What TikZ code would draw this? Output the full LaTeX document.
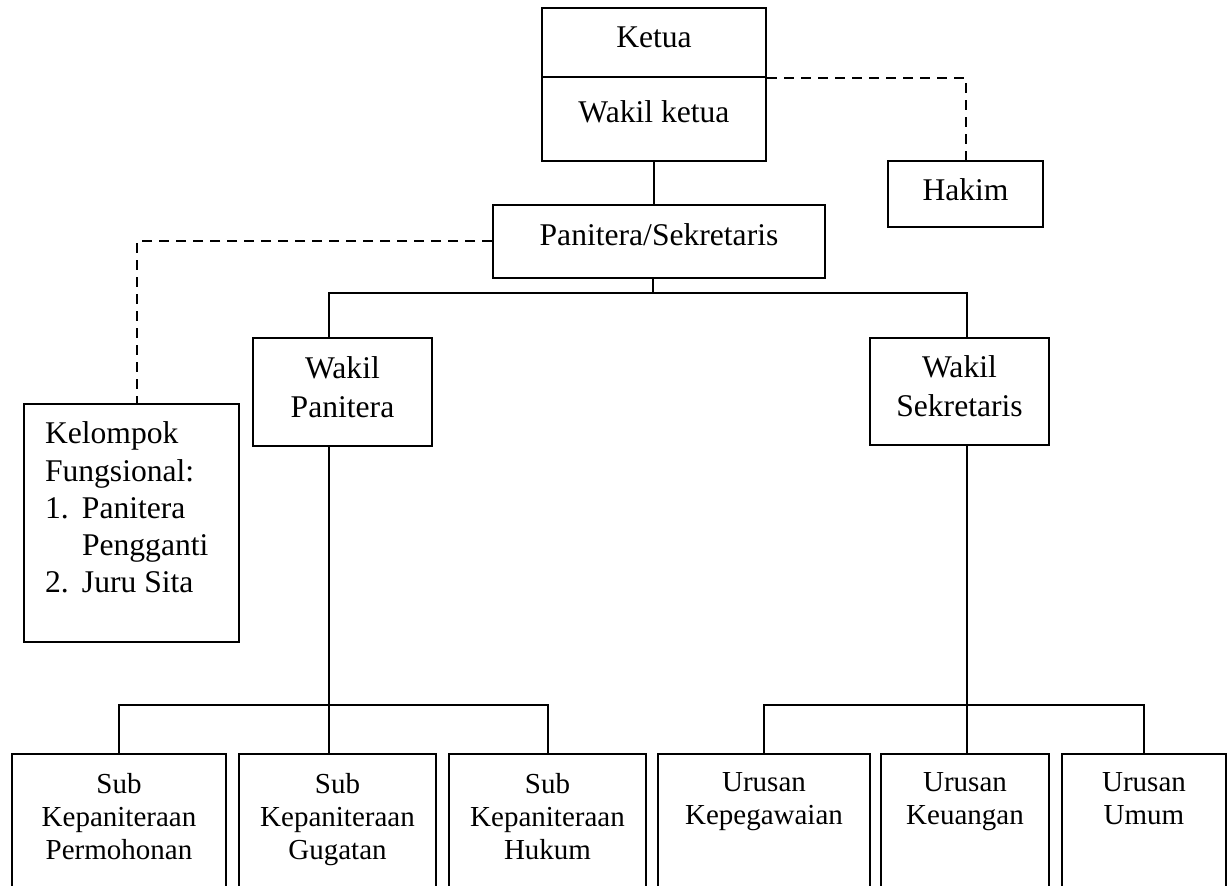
\documentclass[tikz,border=0pt]{standalone}
\usepackage{fontspec}
\setmainfont{Liberation Serif}
\begin{document}
\begin{tikzpicture}[x=0.5pt,y=-0.5pt,line width=1pt,
  box/.style={draw,inner sep=0pt,font=\fontsize{15.8}{19.5}\selectfont,align=center},
  leaf/.style={draw,anchor=north,minimum height=80pt},
  boxtext/.style={inner sep=0pt,font=\fontsize{14.5}{16.5}\selectfont,align=center,anchor=north,yshift=-9.5pt},
  link/.style={dash pattern=on 5pt off 3.5pt}]
\useasboundingbox (0,0) rectangle (1232,886);\clip (0,0) rectangle (1232,886);
% pimpinan
\node[box,minimum width=112pt,text height=20pt,text depth=14.5pt] (ketua) at (654,42.5){Ketua};
\node[box,minimum width=112pt,text height=23pt,text depth=19pt] (wakilketua) at (654,119){Wakil ketua};
\node[box,minimum width=77.5pt,text height=20pt,text depth=13pt] (hakim) at (965.5,194){Hakim};
\node[box,minimum width=166pt,text height=20.5pt,text depth=16pt] (panitera) at (659,241.5){Panitera/Sekretaris};
\node[draw,minimum width=107.5pt,minimum height=119pt,label={[boxtext,anchor=north west,align=left,xshift=10.5pt,yshift=0.5pt,font=\fontsize{15.8}{18.6}\selectfont]north west:{Kelompok\\Fungsional:\\\makebox[18.5pt][l]{1.}Panitera\\\hspace*{18.5pt}Pengganti\\\makebox[18.5pt][l]{2.}Juru Sita}}] (kelompok) at (131.5,523){};
\node[box,minimum width=89.5pt,minimum height=54pt] (wpan) at (342.5,392){Wakil\\Panitera\rule[-5pt]{0pt}{0pt}};
\node[box,minimum width=89.5pt,minimum height=53.5pt] (wsek) at (959.5,391.5){Wakil\\Sekretaris\rule[-5pt]{0pt}{0pt}};
% bagian bawah
\foreach \n/\cx/\w/\txt in {sub1/119/107/{Sub\\Kepaniteraan\\Permohonan},sub2/337.5/98.5/{Sub\\Kepaniteraan\\Gugatan},sub3/547.5/98.5/{Sub\\Kepaniteraan\\Hukum},urs1/764/106/{Urusan\\Kepegawaian},urs2/965/84/{Urusan\\Keuangan},urs3/1144/82/{Urusan\\Umum}}
  \node[leaf,minimum width=\w pt,label={[boxtext]north:\txt}] (\n) at (\cx,753){};
\coordinate (bus) at (653,293);\coordinate (tpan) at (329,293);\coordinate (tsek) at (967,293);\coordinate (lowbus) at (0,705);
% garis
\draw (wakilketua.south) -- (wakilketua.south |- panitera.north);
\draw[link] (ketua.south east) -| (hakim.north);
\draw[link] (panitera.west) -| ([xshift=2.75pt]kelompok.north);
\draw (bus |- panitera.south) -- (bus);
\draw (tpan |- wpan.north) -- (tpan) -- (tsek) -- (tsek |- wsek.north);
\draw (tpan |- wpan.south) -- (tpan |- sub2.north);\draw (tsek |- wsek.south) -- (tsek |- urs2.north);
\draw (sub1.north) -- (sub1.north |- lowbus) -- (sub3.north |- lowbus) -- (sub3.north);
\draw (urs1.north) -- (urs1.north |- lowbus) -- (urs3.north |- lowbus) -- (urs3.north);
\end{tikzpicture}
\end{document}
